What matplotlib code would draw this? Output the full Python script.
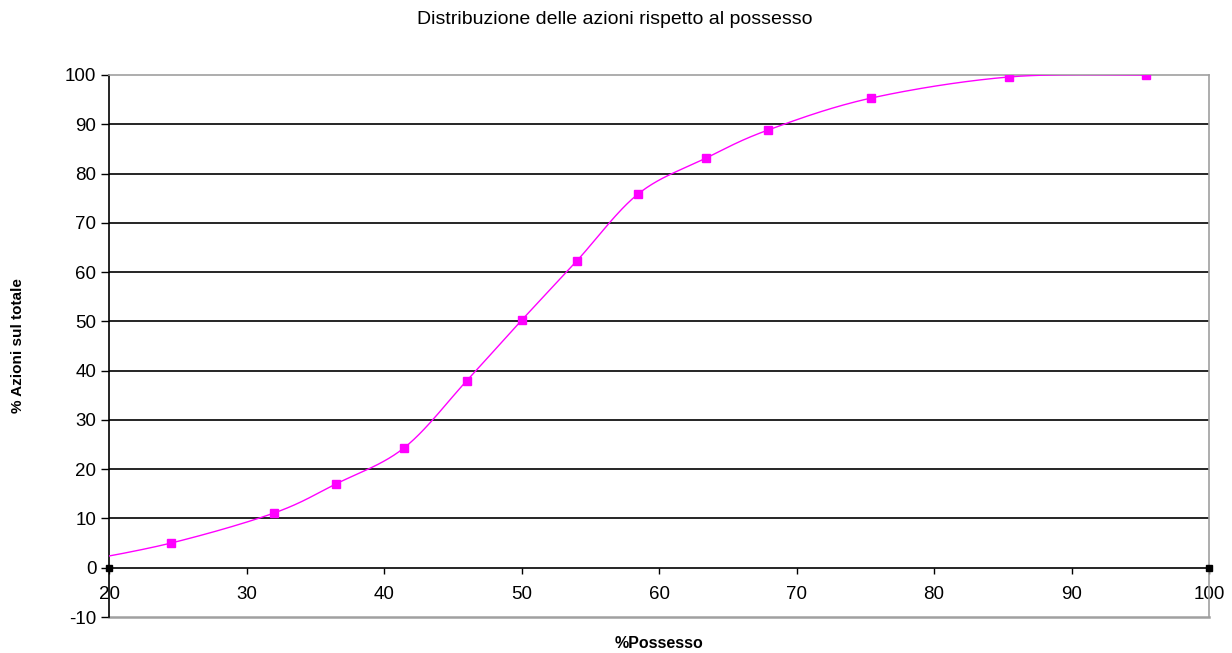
import numpy as np
import matplotlib.pyplot as plt

plt.rcParams['font.family'] = ['Liberation Sans', 'DejaVu Sans']
plt.rcParams['axes.unicode_minus'] = False

# % possesso vs % azioni sul totale (first point lies left of the visible range)
possesso = [17.0, 24.5, 32.0, 36.5, 41.45, 46.0, 50.0, 54.0, 58.5, 63.4, 67.9, 75.4, 85.45, 95.4]
azioni = [0.8, 5.0, 11.1, 17.0, 24.3, 37.9, 50.2, 62.2, 75.9, 83.1, 88.8, 95.3, 99.6, 100.0]

x_ticks = [20, 30, 40, 50, 60, 70, 80, 90, 100]
y_ticks = [-10, 0, 10, 20, 30, 40, 50, 60, 70, 80, 90, 100]

MAGENTA = '#FF00FF'
GREY = '#A0A0A0'


def smooth(xs, ys, sx, sy, n=40):
    """Catmull-Rom curve through the points, computed in scaled units."""
    px = np.asarray(xs) * sx
    py = np.asarray(ys) * sy
    px = np.concatenate([[px[0]], px, [px[-1]]])
    py = np.concatenate([[py[0]], py, [py[-1]]])
    outx, outy = [], []
    t = np.linspace(0, 1, n)
    for i in range(1, len(px) - 2):
        p0, p1, p2, p3 = (np.array([px[j], py[j]]) for j in range(i - 1, i + 3))
        c1 = p1 + (p2 - p0) / 6.0
        c2 = p2 - (p3 - p1) / 6.0
        b = ((1 - t) ** 3)[:, None] * p1 + (3 * (1 - t) ** 2 * t)[:, None] * c1 \
            + (3 * (1 - t) * t ** 2)[:, None] * c2 + (t ** 3)[:, None] * p2
        outx.extend(b[:, 0])
        outy.extend(b[:, 1])
    return np.array(outx) / sx, np.array(outy) / sy


fig = plt.figure(figsize=(12.32, 6.53), dpi=100)
ax = fig.add_axes([109 / 1232, 1 - 617 / 653, 1100 / 1232, 542 / 653])

ax.set_xlim(20, 100)
ax.set_ylim(-10, 100)

# gridlines
for v in y_ticks:
    if 0 < v < 100:
        ax.axhline(v, color='black', lw=1.2, zorder=1)

# smoothed curve + markers
cx, cy = smooth(possesso, azioni, 13.75, 4.93)
ax.plot(cx, cy, color=MAGENTA, lw=1.0, zorder=3)
ax.plot(possesso, azioni, ls='none', marker='s', ms=5.5, color=MAGENTA, zorder=4)

# frame: black axes, grey plot-area border
ax.spines['left'].set_color('black')
ax.spines['left'].set_linewidth(1.2)
ax.spines['bottom'].set_position(('data', 0))
ax.spines['bottom'].set_color('black')
ax.spines['bottom'].set_linewidth(1.2)
for s in ['top', 'right']:
    ax.spines[s].set_color(GREY)
    ax.spines[s].set_linewidth(1.2)
ax.axhline(-10, color=GREY, lw=1.8, clip_on=False, zorder=2)

ax.set_xticks(x_ticks)
ax.set_yticks(y_ticks)
ax.tick_params(axis='x', direction='out', length=4, width=1, pad=9.5, labelsize=13.5)
ax.tick_params(axis='y', direction='out', length=6, width=1, pad=3, labelsize=13.5)

# handles at the ends of the category axis
ax.plot([20, 100], [0, 0], ls='none', marker='s', ms=4.5, color='black',
        clip_on=False, zorder=5)

fig.text(659 / 1232, 1 - 643 / 653, '%Possesso', ha='center', va='center',
         fontsize=11.5, fontweight='bold')
fig.text(18 / 1232, 1 - 346 / 653, '% Azioni sul totale', ha='center', va='center',
         rotation=90, fontsize=11, fontweight='bold')
fig.text(615 / 1232, 1 - 19 / 653, 'Distribuzione delle azioni rispetto al possesso',
         ha='center', va='center', fontsize=14)

fig.savefig('out.png', dpi=100, facecolor='white')
